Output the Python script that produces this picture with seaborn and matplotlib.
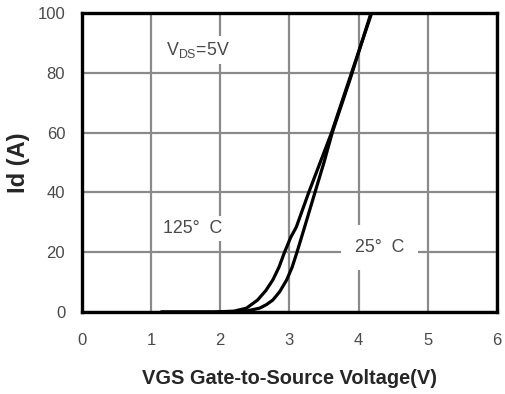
import seaborn as sns
import matplotlib.pyplot as plt
import pandas as pd

# Transfer characteristics
vgs_25 = [1.15, 2.0, 2.35, 2.57, 2.67, 2.76, 2.86, 2.96, 3.04, 3.11, 3.22, 3.37,
          3.5, 3.62, 3.88, 4.18]
id_25 = [0, 0, 0.2, 1.3, 2.5, 4, 6.8, 10.7, 15, 20, 28.4, 40, 50, 60, 78, 100]

vgs_125 = [1.15, 1.9, 2.2, 2.38, 2.54, 2.66, 2.76, 2.85, 2.93, 3.02, 3.1, 3.28,
           3.445, 3.61, 3.87, 4.19]
id_125 = [0, 0, 0.3, 1.3, 4, 7.2, 10.7, 15, 20, 25, 28.4, 40, 50, 60, 78, 100]

x_ticks = [0, 1, 2, 3, 4, 5, 6]
y_ticks = [0, 20, 40, 60, 80, 100]

df = pd.concat([
    pd.DataFrame({"VGS": vgs_25, "Id": id_25, "Temp": "25"}),
    pd.DataFrame({"VGS": vgs_125, "Id": id_125, "Temp": "125"}),
], ignore_index=True)

sns.set_style("white")
plt.rcParams["font.family"] = ["Liberation Sans", "DejaVu Sans"]

fig = plt.figure(figsize=(5.05, 3.94), dpi=100)
ax = fig.add_axes([0.162, 0.208, 0.822, 0.759])

sns.lineplot(data=df, x="VGS", y="Id", hue="Temp", palette=["black", "black"],
             linewidth=2.3, legend=False, ax=ax, sort=False, zorder=3)

ax.set_xlim(0, 6)
ax.set_ylim(0, 100)
ax.set_xticks(x_ticks)
ax.set_yticks(y_ticks)
ax.grid(True, color="#8a8a8a", linewidth=1.6)
ax.set_axisbelow(True)
for s in ax.spines.values():
    s.set_color("black")
    s.set_linewidth(2.4)
ax.tick_params(axis="both", length=0, labelsize=12, labelcolor="#4a4a4a")
ax.tick_params(axis="x", pad=15)
ax.tick_params(axis="y", pad=12)

ax.set_xlabel("VGS Gate-to-Source Voltage(V)", fontsize=14.4, fontweight="bold", labelpad=15)
ax.set_ylabel("Id (A)", fontsize=17, fontweight="bold", labelpad=5)

box = dict(facecolor="white", edgecolor="none", pad=3)
ax.text(1.22, 87.5, r"V$_{\mathregular{DS}}$=5V", fontsize=12.8, color="#4a4a4a",
        va="center", ha="left", bbox=box, zorder=2)
ax.text(1.18, 28, "125°  C", fontsize=12.8, color="#4a4a4a", va="center", ha="left",
        bbox=box, zorder=2)
ax.text(3.95, 21.7, "25°  C", fontsize=12.8, color="#4a4a4a", va="center", ha="left",
        bbox=dict(facecolor="white", edgecolor="none", pad=10), zorder=2)

fig.savefig("out.png", dpi=100)
